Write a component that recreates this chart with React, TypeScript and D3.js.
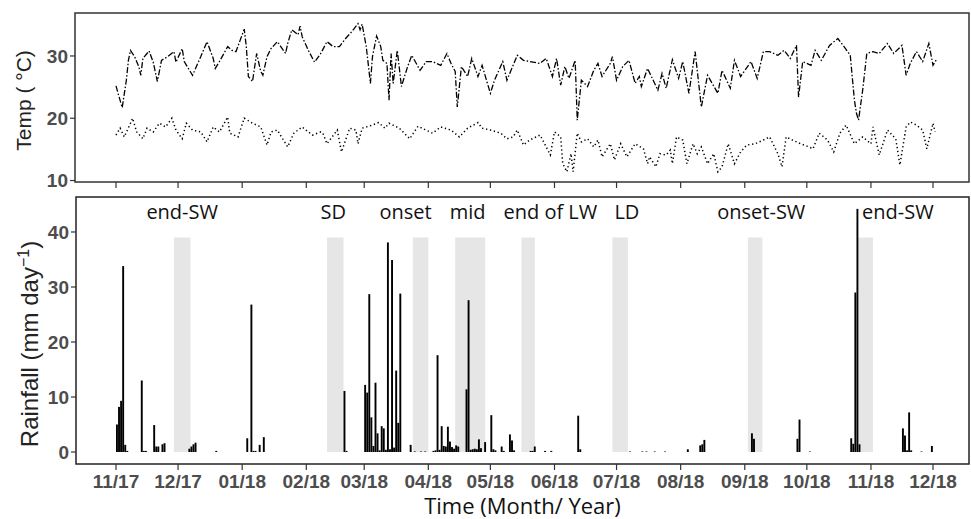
import React from 'react';
import * as d3 from 'd3';

// time axis: 1 Nov 2017 .. 1 Dec 2018, values keyed by day since 1 Nov 2017
const START = new Date(2017, 10, 1);
const END = new Date(2018, 11, 1);
const monthTicks = d3.timeMonth.range(START, new Date(2018, 11, 2));

// daily maximum temperature (°C)
const tmax: [number, number][] = [
  [0, 25.2], [1, 24], [3, 21.7], [5, 26.1], [6, 29.3], [7, 30.9], [9, 29.9], [11, 28.3], [12, 26.9], [13, 29.6],
  [16, 30.8], [18, 29], [20, 25.9], [22, 29.3], [25, 29.9], [28, 30.7], [29, 29], [32, 31.2], [33, 29.1], [37, 26.9],
  [41, 29.9], [44, 32.3], [47, 29.6], [48, 28], [50, 29.1], [54, 31.5], [56, 30.9], [58, 30.7], [60, 32.5], [62, 34.3],
  [63, 31.5], [64, 26.7], [66, 25.9], [68, 30.4], [70, 27.5], [71, 26.9], [73, 29.9], [75, 31.2], [78, 32.3], [82, 30.4],
  [83, 32], [85, 34.2], [88, 33.4], [89, 34.8], [90, 33.1], [93, 30.9], [96, 29], [99, 30.4], [102, 32.3], [105, 31.5],
  [108, 31.5], [111, 32.8], [114, 33.9], [117, 35.2], [118, 34.2], [119, 35.1], [121, 31.5], [123, 25.6], [124, 29.9], [126, 33.2],
  [128, 31.5], [129, 29.3], [131, 28.8], [132, 22.9], [133, 30.4], [134, 25.6], [136, 30.9], [138, 25.1], [141, 28.3], [143, 30.1],
  [147, 27.7], [150, 29.1], [153, 29.1], [157, 28.5], [160, 30.4], [162, 28.8], [164, 27.5], [165, 21.8], [167, 28.3], [170, 26.7],
  [172, 29.6], [175, 26.7], [177, 28.5], [181, 24], [183, 26.1], [187, 29.1], [189, 26.1], [191, 27.7], [194, 30.1], [197, 29.3],
  [200, 29.1], [205, 28.8], [208, 29.6], [211, 26.7], [213, 29.6], [215, 25.3], [217, 28.3], [219, 26.4], [222, 29.3], [223, 19.7],
  [225, 26.1], [228, 25.1], [231, 27.7], [233, 28.8], [235, 26.7], [239, 28.8], [240, 29.9], [242, 26.1], [245, 28.3], [248, 29.3],
  [251, 25.6], [253, 26.7], [254, 25.1], [257, 28], [262, 24.5], [264, 27.2], [266, 24.8], [269, 29.4], [272, 26.4], [274, 29.1],
  [277, 24], [280, 30.7], [283, 21.8], [286, 26.9], [291, 24], [293, 27.7], [297, 24.8], [299, 29.3], [302, 26.7], [307, 29.1],
  [310, 26.4], [313, 30.7], [316, 30.7], [320, 30.1], [323, 30.9], [326, 29.6], [329, 31.7], [330, 23.4], [332, 29.1], [336, 28.5],
  [338, 30.9], [341, 29.3], [345, 31.7], [349, 32.8], [352, 31.5], [355, 30.1], [357, 22.9], [358, 20.8], [359, 19.7], [361, 24.5],
  [363, 30.4], [366, 30.7], [369, 30.4], [373, 32], [376, 30.4], [380, 31.7], [382, 26.9], [384, 28.8], [387, 30.7], [390, 29.1],
  [393, 32], [395, 28.5], [397, 29.6],
];

// daily minimum temperature (°C)
const tmin: [number, number][] = [
  [0, 17.3], [2, 18.4], [4, 17], [7, 19.2], [8, 20], [10, 17.8], [13, 16.7], [15, 18.4], [18, 17.8], [21, 19.2],
  [24, 18.6], [27, 20], [29, 18.1], [32, 16.7], [34, 19.2], [37, 18.1], [41, 17.8], [44, 16.2], [47, 18.6], [50, 17.8],
  [54, 20.2], [55, 17.6], [59, 17], [62, 20], [66, 19.2], [70, 18.6], [73, 15.7], [75, 17.8], [78, 18.1], [83, 15.4],
  [86, 17.6], [90, 18.6], [93, 17.8], [95, 17.3], [99, 17.8], [100, 17.6], [102, 15.9], [107, 18.1], [109, 14.6], [111, 16.5],
  [113, 18.4], [116, 18.1], [117, 15.9], [119, 18.4], [124, 18.9], [127, 19.3], [130, 18.4], [132, 19.2], [137, 18.4], [142, 16.7],
  [146, 18.7], [148, 18.4], [153, 17.6], [157, 18.6], [162, 18.1], [166, 17], [170, 18.4], [175, 19.3], [177, 18.4], [181, 18.1],
  [186, 17.6], [189, 16.7], [192, 17], [194, 18.1], [197, 15.7], [200, 16.5], [205, 17.3], [208, 15.4], [210, 14.1], [212, 17.8],
  [215, 17], [216, 12.7], [218, 11.4], [220, 14.3], [221, 11.4], [223, 17.6], [225, 16.2], [228, 16.7], [231, 15.4], [233, 16.5],
  [235, 13.8], [239, 15.9], [241, 13.3], [244, 15.9], [247, 13.8], [251, 15.9], [255, 15.1], [257, 12.7], [258, 13.8], [261, 12.2],
  [263, 14.3], [266, 14.1], [268, 14.9], [269, 12.7], [271, 17], [274, 16.5], [276, 12.7], [279, 15.9], [281, 14.3], [283, 15.4],
  [286, 12.7], [289, 14.3], [291, 11.4], [293, 12.2], [296, 15.9], [299, 12.7], [302, 14.6], [305, 15.7], [309, 15.9], [313, 16.5],
  [316, 17], [320, 14.3], [322, 12.2], [324, 17], [327, 16.5], [331, 15.9], [335, 15.4], [337, 15.1], [340, 17.6], [344, 16.5],
  [347, 14.6], [350, 17.6], [353, 18.9], [357, 15.9], [361, 17], [365, 15.9], [366, 18.6], [369, 14.1], [373, 18.1], [377, 16.7],
  [379, 12.5], [382, 18.6], [384, 19.4], [387, 18.9], [390, 18.1], [392, 15.1], [395, 19.2], [396, 17.8],
];

// daily rainfall (mm day-1), days without rain omitted
const rain: [number, number][] = [
  [0, 5.0], [1, 8.2], [2, 9.3], [3, 33.8], [4, 1.3], [5, 0.2], [12, 13.0], [13, 0.2], [14, 0.2], [18, 4.9],
  [19, 1.0], [20, 1.0], [22, 1.4], [23, 1.6], [35, 0.6], [36, 1.0], [37, 1.4], [38, 1.7], [48, 0.2], [63, 2.5],
  [65, 26.8], [66, 0.2], [67, 0.2], [69, 1.3], [71, 2.7], [110, 11.1], [111, 0.2], [120, 12.2], [121, 10.8], [122, 28.7],
  [123, 6.3], [124, 1.1], [125, 12.6], [126, 3.4], [127, 0.3], [128, 4.7], [129, 4.3], [130, 0.4], [131, 38.1], [132, 0.5],
  [133, 34.9], [134, 0.8], [135, 14.8], [136, 5.3], [137, 28.8], [142, 1.3], [144, 0.1], [147, 0.1], [149, 0.1], [153, 0.2],
  [154, 0.3], [155, 17.6], [156, 0.4], [157, 4.7], [158, 1.1], [159, 1.0], [160, 4.6], [161, 1.9], [162, 0.9], [163, 0.6],
  [164, 1.2], [165, 1.0], [169, 11.4], [170, 27.6], [171, 0.4], [172, 0.5], [173, 0.6], [174, 0.5], [175, 2.3], [176, 0.7],
  [178, 1.8], [181, 6.7], [182, 0.5], [183, 0.3], [186, 1.0], [187, 0.2], [190, 3.2], [191, 2.1], [192, 0.3], [200, 0.2],
  [201, 0.2], [202, 1.0], [207, 0.2], [210, 0.2], [223, 6.6], [224, 0.5], [248, 0.1], [254, 0.1], [256, 0.1], [260, 0.1],
  [265, 0.1], [276, 0.5], [282, 1.2], [283, 1.4], [284, 2.2], [307, 3.4], [308, 2.4], [329, 2.4], [330, 5.9], [335, 0.1],
  [355, 2.5], [356, 1.5], [357, 29.0], [358, 44.2], [359, 1.4], [380, 4.3], [381, 3.0], [382, 0.3], [383, 7.2], [384, 0.3],
  [389, 0.1], [394, 1.1],
];

// season phases (shaded periods) and their labels
const phaseFrom = [28, 102, 143.5, 164, 196, 240, 305.5, 358.5];
const phaseTo = [36, 110, 151, 178.5, 202.5, 247.5, 312.5, 366];
const phaseLabels = ['end-SW', 'SD', 'onset', 'mid', 'end of LW', 'LD', 'onset-SW', 'end-SW'];
const phaseLabelDay = [32, 105, 140, 170, 210, 247, 312, 378];

const tempTicks = [10, 20, 30];
const rainTicks = [0, 10, 20, 30, 40];

const W = 971;
const H = 519;
const LEFT = 76;
const RIGHT = 969;
const tickFont = 'Arial, "Liberation Sans", sans-serif';
const labelFont = '"Open Sans", "Noto Sans", sans-serif';

const dayDate = (d: number) => new Date(+START + d * 864e5);

export default function App() {
  const x = d3.scaleTime().domain([START, END]).range([116, 933]);
  const dx = (d: number) => x(dayDate(d));

  // top panel: temperature
  const tTop = 13, tBot = 182;
  const yT = d3.scaleLinear().domain([9.76, 36.9]).range([tBot, tTop]);
  const line = d3.line<[number, number]>().x(d => dx(d[0])).y(d => yT(d[1]));

  // bottom panel: rainfall
  const rTop = 197, rBot = 464;
  const yR = d3.scaleLinear().domain([-2.18, 46.36]).range([rBot, rTop]);
  const fmt = d3.timeFormat('%m/%y');

  return (
    <svg width={W} height={H} style={{ position: 'absolute', left: 0, top: 0 }}>
      <rect width={W} height={H} fill="#fff" />

      {/* temperature panel */}
      <rect x={LEFT - 1} y={tTop} width={RIGHT - LEFT + 1} height={tBot - tTop} fill="none" stroke="#333" strokeWidth={1.5} />
      <path d={line(tmax) || ''} fill="none" stroke="#000" strokeWidth={1.3} strokeDasharray="6 2 1.5 2" />
      <path d={line(tmin) || ''} fill="none" stroke="#000" strokeWidth={1.5} strokeDasharray="1.3 2.7" />
      {tempTicks.map(t => (
        <g key={t} transform={`translate(${LEFT - 1},${yT(t)})`}>
          <line x1={-5} x2={0} stroke="#333" strokeWidth={1.2} />
          <text x={-7} dy="0.35em" textAnchor="end" fontFamily={tickFont} fontWeight="bold" fontSize={19} fill="#4d4d4d">{t}</text>
        </g>
      ))}
      {monthTicks.map(m => (
        <line key={+m} x1={x(m)} x2={x(m)} y1={tBot} y2={tBot + 6} stroke="#333" strokeWidth={1.2} />
      ))}
      <text transform={`translate(31,${(tTop + tBot) / 2 + 3}) rotate(-90)`} textAnchor="middle" fontFamily={tickFont} fontSize={21} fill="#222">Temp ( °C)</text>

      {/* rainfall panel */}
      {phaseFrom.map((f, i) => (
        <rect key={i} x={dx(f)} width={dx(phaseTo[i]) - dx(f)} y={yR(39)} height={yR(0) - yR(39)} fill="#e6e6e6" />
      ))}
      {rain.map(([d, v]) => (
        <rect key={d} x={dx(d)} width={1.9} y={yR(v)} height={yR(0) - yR(v)} fill="#000" />
      ))}
      {phaseLabels.map((l, i) => (
        <text key={i} x={dx(phaseLabelDay[i])} y={219} textAnchor="middle" fontFamily={labelFont} fontSize={20} fill="#111">{l}</text>
      ))}
      <rect x={LEFT} y={rTop} width={RIGHT - LEFT} height={rBot - rTop} fill="none" stroke="#222" strokeWidth={1.5} />
      {rainTicks.map(t => (
        <g key={t} transform={`translate(${LEFT},${yR(t)})`}>
          <line x1={-5} x2={0} stroke="#333" strokeWidth={1.2} />
          <text x={-7} dy="0.35em" textAnchor="end" fontFamily={tickFont} fontWeight="bold" fontSize={19} fill="#4d4d4d">{t}</text>
        </g>
      ))}
      {monthTicks.map(m => (
        <g key={+m} transform={`translate(${x(m)},${rBot})`}>
          <line y2={6} stroke="#333" strokeWidth={1.2} />
          <text y={24} textAnchor="middle" fontFamily={tickFont} fontWeight="bold" fontSize={19} fill="#4d4d4d">{fmt(m)}</text>
        </g>
      ))}
      <text transform={`translate(38,344) rotate(-90)`} textAnchor="middle" fontFamily={tickFont} fontSize={24} fill="#222">
        Rainfall (mm day<tspan dy={-9} fontSize={16}>−1</tspan><tspan dy={9}>)</tspan>
      </text>
      <text x={(LEFT + RIGHT) / 2} y={514} textAnchor="middle" fontFamily={labelFont} fontSize={22} fill="#111">Time (Month/ Year)</text>
    </svg>
  );
}
